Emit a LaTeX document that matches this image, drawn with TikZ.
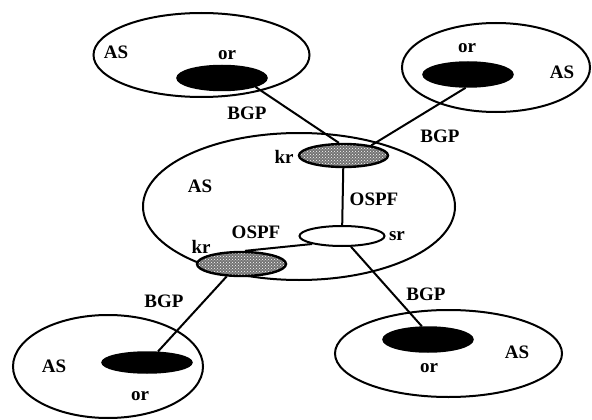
\documentclass[tikz,border=0pt]{standalone}
\usepackage{fontspec}
\setmainfont{Liberation Serif}
\usetikzlibrary{shapes.geometric,patterns}
\pgfdeclarelayer{bg}
\pgfsetlayers{bg,main}
\tikzset{
  asbox/.style={draw, line width=2pt, ellipse, inner sep=0pt},
  orbox/.style={draw, fill=black, line width=1.5pt, ellipse, inner sep=0pt, minimum width=90pt, minimum height=25pt},
  krbox/.style={draw, line width=2.4pt, ellipse, inner sep=0pt, preaction={fill=black!55}, pattern=crosshatch dots, pattern color=white, minimum width=89pt, minimum height=23pt},
  srbox/.style={draw, fill=white, line width=2pt, ellipse, inner sep=0pt, minimum width=85pt, minimum height=20pt},
  link/.style={line width=2pt},
  lbl/.style={anchor=base, font=\bfseries\fontsize{19}{21}\selectfont, inner sep=0pt}
}
\begin{document}
\begin{tikzpicture}[x=1pt,y=-1pt]
\useasboundingbox (0,0) rectangle (592,420);
% autonomous systems
\node[asbox, minimum width=216pt, minimum height=84pt] (asTL) at (201.5,55) {};
\node[asbox, minimum width=188pt, minimum height=89pt] (asTR) at (496,67.5) {};
\node[asbox, minimum width=312pt, minimum height=147pt] (asC) at (299,206.5) {};
\node[asbox, minimum width=190pt, minimum height=103pt] (asBL) at (108,366.5) {};
\node[asbox, minimum width=227pt, minimum height=87pt] (asBR) at (448.5,353.5) {};
% routers
\node[orbox] (orTL) at (222,78) {};
\node[orbox] (orTR) at (468,74.5) {};
\node[orbox, minimum height=21pt] (orBL) at (147,362.5) {};
\node[orbox] (orBR) at (428,339.5) {};
\node[krbox] (krT) at (343.5,155.5) {};
\node[krbox, minimum height=24pt] (krL) at (241.5,264) {};
\node[srbox] (sr) at (342,236) {};
% connections
\begin{pgfonlayer}{bg}
\draw[link] (orTL.-15) -- (krT.110);
\draw[link] (orTR.-100) -- (krT.20);
\draw[link] (krT.center) -- (sr.center);
\draw[link] (sr.195) -- (krL.75);
\draw[link] (sr.-50) -- (orBR.115);
\draw[link] (krL.-140) -- (orBL.45);
\end{pgfonlayer}
% labels
\node[lbl] (tAS1) at (116,59) {AS};
\node[lbl] (tor1) at (227,60) {or};
\node[lbl] (tBGP1) at (247,120) {BGP};
\node[lbl] (tor2) at (467,53) {or};
\node[lbl] (tAS2) at (562,78) {AS};
\node[lbl] (tBGP2) at (440,142) {BGP};
\node[lbl] (tkr1) at (284,163) {kr};
\node[lbl] (tAS3) at (200,192) {AS};
\node[lbl] (tOSPF1) at (374,205) {OSPF};
\node[lbl] (tOSPF2) at (256,238) {OSPF};
\node[lbl] (tsr) at (397,240) {sr};
\node[lbl] (tkr2) at (201,253) {kr};
\node[lbl] (tBGP3) at (164,307) {BGP};
\node[lbl] (tAS4) at (54,372) {AS};
\node[lbl] (tor3) at (140,400) {or};
\node[lbl] (tBGP4) at (426,300) {BGP};
\node[lbl] (tAS5) at (517,358) {AS};
\node[lbl] (tor4) at (429,372) {or};
\end{tikzpicture}
\end{document}
